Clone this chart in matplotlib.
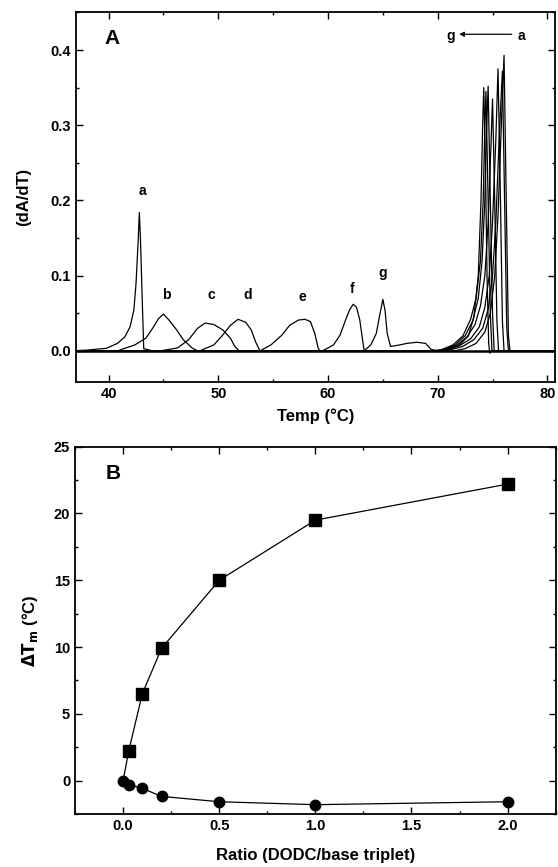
import numpy as np
import matplotlib
matplotlib.use('Agg')
import matplotlib.pyplot as plt
from matplotlib.ticker import MultipleLocator

plt.rcParams['font.family'] = ['Liberation Sans', 'DejaVu Sans']
plt.rcParams['font.weight'] = 'bold'

# ---- panel A: derivative melting curves (temperature, dA/dT)
curve_a_t = [36.5, 38.0, 39.8, 40.8, 41.5, 41.95, 42.3, 42.5, 42.7, 42.8, 42.9, 43.06, 43.2, 44.0,
             70.0, 71.5, 72.5, 73.5, 74.3, 74.8, 75.2, 75.5, 75.8, 76.05, 76.25, 76.45, 76.6, 81.0]
curve_a_v = [0.0, 0.001, 0.0035, 0.01, 0.019, 0.032, 0.054, 0.09, 0.148, 0.184, 0.15, 0.07, 0.003, 0.0,
             0.0, 0.0, 0.003, 0.01, 0.025, 0.05, 0.1, 0.18, 0.3, 0.393, 0.2, 0.02, 0.0, 0.0]

curve_b_t = [36.5, 40.8, 42.4, 43.4, 44.1, 44.55, 45.0, 45.5, 46.2, 46.8, 47.6, 48.1,
             70.0, 71.3, 72.3, 73.3, 74.1, 74.6, 75.0, 75.3, 75.6, 75.9, 76.1, 76.3, 76.45, 81.0]
curve_b_v = [0.0, 0.0, 0.008, 0.017, 0.032, 0.043, 0.049, 0.041, 0.028, 0.015, 0.004, 0.0,
             0.0, 0.002, 0.006, 0.015, 0.03, 0.055, 0.1, 0.17, 0.28, 0.372, 0.2, 0.03, 0.0, 0.0]

curve_c_t = [36.5, 44.7, 46.3, 47.3, 48.1, 48.8, 49.6, 50.4, 51.1, 51.5, 51.9,
             70.0, 71.0, 72.0, 73.0, 73.8, 74.3, 74.7, 75.0, 75.3, 75.5, 75.7, 75.9, 76.05, 81.0]
curve_c_v = [0.0, 0.0, 0.004, 0.015, 0.03, 0.037, 0.035, 0.028, 0.017, 0.006, 0.0,
             0.0, 0.002, 0.007, 0.016, 0.032, 0.058, 0.1, 0.17, 0.28, 0.375, 0.22, 0.04, 0.0, 0.0]

curve_d_t = [36.5, 48.3, 49.6, 50.4, 51.1, 51.8, 52.5, 53.0, 53.4, 53.8,
             70.0, 70.8, 71.8, 72.7, 73.4, 73.9, 74.3, 74.6, 74.85, 75.0, 75.2, 75.4, 75.55, 81.0]
curve_d_v = [0.0, 0.0, 0.008, 0.021, 0.034, 0.042, 0.038, 0.028, 0.012, 0.0,
             0.0, 0.002, 0.008, 0.019, 0.035, 0.06, 0.1, 0.17, 0.27, 0.335, 0.2, 0.04, 0.0, 0.0]

curve_e_t = [36.5, 53.8, 54.8, 55.8, 56.5, 57.3, 57.9, 58.4, 58.8, 59.1, 59.25,
             69.8, 70.6, 71.6, 72.5, 73.2, 73.7, 74.05, 74.3, 74.45, 74.6, 74.8, 75.0, 75.15, 81.0]
curve_e_v = [0.0, 0.0, 0.008, 0.021, 0.034, 0.041, 0.042, 0.039, 0.023, 0.004, 0.0,
             0.0, 0.002, 0.008, 0.02, 0.04, 0.07, 0.12, 0.2, 0.29, 0.352, 0.2, 0.05, 0.0, 0.0]

curve_f_t = [36.5, 59.5, 60.5, 61.1, 61.6, 61.95, 62.3, 62.6, 62.9, 63.1, 63.3,
             69.6, 70.4, 71.4, 72.3, 73.0, 73.5, 73.9, 74.15, 74.3, 74.4, 74.6, 74.8, 74.95, 81.0]
curve_f_v = [0.0, 0.0, 0.008, 0.021, 0.041, 0.054, 0.062, 0.058, 0.041, 0.02, 0.0,
             0.0, 0.002, 0.008, 0.02, 0.042, 0.07, 0.12, 0.2, 0.3, 0.345, 0.2, 0.05, 0.0, 0.0]

curve_g_t = [36.5, 63.3, 63.9, 64.4, 64.75, 65.0, 65.2, 65.4, 65.7, 66.2, 67.2, 68.1, 68.9, 69.4,
             70.1, 71.0, 72.0, 72.8, 73.3, 73.7, 73.95, 74.1, 74.2, 74.35, 74.5, 74.65, 74.75, 75.0, 81.0]
curve_g_v = [0.0, 0.0, 0.008, 0.023, 0.05, 0.0685, 0.054, 0.023, 0.006, 0.007, 0.01, 0.0115, 0.01, 0.002,
             0.0, 0.002, 0.008, 0.02, 0.045, 0.1, 0.2, 0.3, 0.35, 0.25, 0.1, 0.01, -0.003, 0.0, 0.0]

curves = [(curve_a_t, curve_a_v), (curve_b_t, curve_b_v), (curve_c_t, curve_c_v),
          (curve_d_t, curve_d_v), (curve_e_t, curve_e_v), (curve_f_t, curve_f_v),
          (curve_g_t, curve_g_v)]
curve_names = ['a', 'b', 'c', 'd', 'e', 'f', 'g']
label_t = [43.1, 45.3, 49.4, 52.7, 57.7, 62.2, 65.0]
label_v = [0.213, 0.074, 0.074, 0.074, 0.072, 0.082, 0.103]

# ---- panel B: delta Tm vs ratio
ratio = [0.0, 0.03, 0.1, 0.2, 0.5, 1.0, 2.0]
dtm_square = [0.0, 2.25, 6.5, 9.9, 15.0, 19.5, 22.2]
dtm_circle = [0.0, -0.3, -0.58, -1.18, -1.58, -1.8, -1.58]

fig = plt.figure(figsize=(5.58, 8.67), dpi=100)
axA = fig.add_axes([0.1357, 0.5597, 0.859, 0.4268])
axB = fig.add_axes([0.1344, 0.0611, 0.8615, 0.4237])

# panel A
axA.axhline(0, color='black', lw=1.8, zorder=1)
for t, v in curves:
    axA.plot(t, v, color='black', lw=0.9)
for name, t, v in zip(curve_names, label_t, label_v):
    axA.text(t, v, name, ha='center', va='center', fontsize=10, fontweight='bold')
axA.text(40.3, 0.415, 'A', ha='center', va='center', fontsize=15, fontweight='bold')
axA.text(71.2, 0.419, 'g', ha='center', va='center', fontsize=10, fontweight='bold')
axA.text(77.6, 0.419, 'a', ha='center', va='center', fontsize=10, fontweight='bold')
axA.annotate('', xy=(71.7, 0.421), xytext=(77.0, 0.421),
             arrowprops=dict(arrowstyle='-|>', color='black', lw=0.9, mutation_scale=7))
axA.set_xlim(37.0, 80.7)
axA.set_ylim(-0.041, 0.451)
axA.xaxis.set_major_locator(MultipleLocator(10))
axA.xaxis.set_minor_locator(MultipleLocator(5))
axA.yaxis.set_major_locator(MultipleLocator(0.1))
axA.yaxis.set_minor_locator(MultipleLocator(0.05))
axA.set_xlabel('Temp (°C)', fontsize=12, fontweight='bold', labelpad=6)
axA.set_ylabel('(dA/dT)', fontsize=12, fontweight='bold', labelpad=14)

# panel B
axB.plot(ratio, dtm_square, color='black', lw=0.9, marker='s', markersize=8, markevery=list(range(1, len(ratio))))
axB.plot(ratio, dtm_circle, color='black', lw=0.9, marker='o', markersize=7.5)
axB.text(-0.05, 23.0, 'B', ha='center', va='center', fontsize=15, fontweight='bold')
axB.set_xlim(-0.25, 2.25)
axB.set_ylim(-2.5, 25)
axB.xaxis.set_major_locator(MultipleLocator(0.5))
axB.xaxis.set_minor_locator(MultipleLocator(0.25))
axB.yaxis.set_major_locator(MultipleLocator(5))
axB.yaxis.set_minor_locator(MultipleLocator(2.5))
axB.set_xlabel('Ratio (DODC/base triplet)', fontsize=12, fontweight='bold', labelpad=11)
axB.set_ylabel(r'$\mathbf{\Delta T_m}$ (°C)', fontsize=12, fontweight='bold', labelpad=10)

for ax in (axA, axB):
    for sp in ax.spines.values():
        sp.set_linewidth(1.3)
    ax.tick_params(which='both', direction='in', top=True, right=True, width=1.0)
    ax.tick_params(which='major', length=5, labelsize=10.5)
    ax.tick_params(which='minor', length=2.5)
    for lab in ax.get_xticklabels() + ax.get_yticklabels():
        lab.set_fontweight('bold')

fig.savefig('out.png', dpi=100)
